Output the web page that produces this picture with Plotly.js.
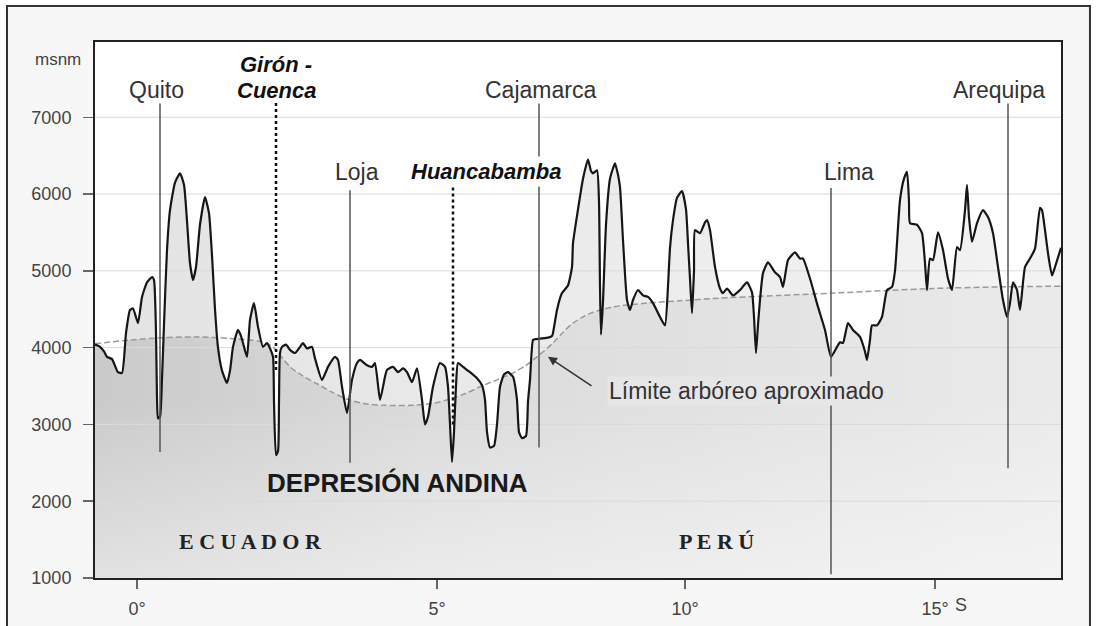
<!DOCTYPE html>
<html>
<head>
<meta charset="utf-8">
<script src="https://cdn.plot.ly/plotly-3.0.1.min.js"></script>
<style>html,body{margin:0;padding:0;background:#fff;}#chart{width:1096px;height:626px;}</style>
</head>
<body>
<div id="chart"></div>
<script>
// Distance along the Andean profile (arbitrary units) and altitude (msnm)
const dist = [0,2,5,9,12,17,23,27,31,35,38,43,47,52,57,59,61,62,63,65,67,69,72,75,80,85,89,92,95,98,101,105,110,114,117,120,123,127,132,135,138,143,146,148,152,155,159,163,168,172,175,178,179,181,183,184,185,187,191,195,200,205,208,212,217,220,227,233,240,243,247,252,257,262,265,272,277,280,285,290,292,298,303,308,312,317,322,327,330,333,338,345,350,353,355,357,359,361,363,368,375,382,387,390,392,395,399,402,405,409,413,418,422,424,427,431,433,435,438,440,447,453,457,458,462,467,473,477,478,483,488,493,496,498,502,504,505,506,508,511,515,520,523,525,528,532,535,538,543,548,553,558,565,570,573,575,578,582,587,591,593,595,597,599,600,605,610,612,615,620,625,628,632,638,645,652,657,659,661,663,665,668,673,680,685,688,693,700,705,708,715,723,730,736,742,745,748,753,758,765,770,772,775,777,782,787,792,797,800,802,805,809,812,814,815,822,827,830,832,835,838,843,848,853,857,862,865,870,872,874,877,882,888,893,898,903,908,912,915,918,922,925,930,935,940,945,947,950,953,957,960,966];
const altitud = [4040,4030,4010,3950,3880,3850,3680,3670,4190,4490,4510,4320,4660,4850,4920,4880,4190,3350,3080,3100,3600,4300,5270,5790,6150,6270,6120,5650,5100,4880,5050,5600,5960,5750,5200,4500,4000,3700,3540,3700,4010,4230,4150,4060,3880,4360,4580,4270,4010,4060,3990,3880,3300,2600,2650,3300,3930,4010,4040,3970,3930,4010,4060,3990,4010,3860,3580,3750,3880,3840,3490,3150,3580,3800,3840,3770,3750,3800,3320,3620,3710,3750,3680,3730,3680,3550,3730,3320,3000,3100,3490,3800,3750,3490,3000,2510,2900,3500,3800,3750,3680,3600,3510,3320,2900,2700,2720,3000,3490,3650,3680,3620,3320,2900,2820,2850,3300,3580,4100,4110,4120,4130,4150,4190,4490,4710,4810,5050,5360,5800,6200,6450,6300,6270,6310,5900,4800,4170,4600,5600,6200,6400,6250,6090,5400,4620,4490,4620,4750,4680,4660,4580,4400,4290,4800,5300,5660,5950,6040,5800,5360,4900,4450,5000,5530,5490,5630,5660,5530,5050,4770,4710,4770,4680,4750,4850,4720,4400,3930,4300,4620,4970,5110,4980,4920,4790,5140,5240,5160,5160,4900,4530,4230,3880,4010,4070,4060,4320,4230,4140,3950,3840,4100,4290,4290,4400,4750,4790,5000,5360,5920,6200,6290,5900,5620,5600,5490,5100,4750,5160,5140,5500,5270,4900,4750,5310,5270,5790,6120,5700,5380,5620,5790,5700,5490,5050,4620,4400,4580,4850,4750,4490,5050,5160,5290,5820,5790,5530,5230,4940,5050,5300];

// Approximate tree line
const limiteDist = [0,35,70,102,135,165,178,187,195,208,222,237,252,270,288,318,340,352,370,385,402,418,430,442,458,468,478,488,498,518,552,585,618,685,738,838,905,966];
const limiteAlt  = [4050,4100,4130,4140,4120,4080,4010,3870,3750,3630,3530,3420,3330,3270,3250,3250,3280,3320,3400,3490,3580,3670,3760,3880,4060,4200,4320,4400,4460,4530,4580,4610,4640,4680,4710,4770,4790,4800];

// Localities: position along profile, top and bottom of marker line (msnm)
const ciudades    = ['Quito','Girón - Cuenca','Loja','Huancabamba','Cajamarca','Lima','Arequipa'];
const ciudadDist  = [65,181,255,358,444,736,913];
const ciudadTop   = [7180,7200,6050,6090,7180,6080,7180];
const ciudadBase  = [2640,3710,2500,3000,2700,1050,2430];
const ciudadDepr  = [false,true,false,true,false,false,false];

// Axes
const latTickVals = [42,342,590,840];
const latTickText = ['0°','5°','10°','15°'];
const altTicks    = [1000,2000,3000,4000,5000,6000,7000];
const xRange = [0,966];
const yRange = [1000,7980];

const SANS = 'Liberation Sans, Arial, sans-serif';
const SERIF = 'Liberation Serif, Times New Roman, serif';
const sm = 0.5;

const traces = [];
// terrain fill
traces.push({x: dist, y: altitud, mode:'lines', fill:'tozeroy', line:{width:0, shape:'spline', smoothing:sm},
  fillgradient:{type:'horizontal', colorscale:[[0,'#e3e3e3'],[0.5,'#ebebeb'],[1,'#f3f3f3']]}, hoverinfo:'skip', showlegend:false});
// tree line fill
traces.push({x: limiteDist, y: limiteAlt, mode:'lines', fill:'tozeroy', line:{width:0, shape:'spline', smoothing:0.8},
  fillgradient:{type:'horizontal', colorscale:[[0,'rgba(0,0,0,0.11)'],[0.35,'rgba(0,0,0,0.06)'],[1,'rgba(0,0,0,0.035)']]}, hoverinfo:'skip', showlegend:false});
// soft lightening towards the base of the profile
traces.push({x: xRange, y: [3300, 3300], mode:'lines', fill:'tozeroy', line:{width:0},
  fillgradient:{type:'vertical', start:1000, stop:3300, colorscale:[[0,'rgba(255,255,255,0.45)'],[1,'rgba(255,255,255,0)']]}, hoverinfo:'skip', showlegend:false});
// white mask above terrain
traces.push({x: dist, y: dist.map(() => yRange[1]), mode:'lines', line:{width:0}, hoverinfo:'skip', showlegend:false});
traces.push({x: dist, y: altitud, mode:'lines', fill:'tonexty', fillcolor:'#ffffff', line:{width:0, shape:'spline', smoothing:sm}, hoverinfo:'skip', showlegend:false});
// grid lines
const gx = [], gy = [];
altTicks.slice(1).forEach(v => { gx.push(xRange[0], xRange[1], null); gy.push(v, v, null); });
traces.push({x: gx, y: gy, mode:'lines', line:{color:'#dadada', width:1}, hoverinfo:'skip', showlegend:false});
// tree line dashed
traces.push({x: limiteDist, y: limiteAlt, mode:'lines', line:{color:'#9a9a9a', width:1.5, dash:'6px,3px', shape:'spline', smoothing:0.8}, hoverinfo:'skip', showlegend:false});
// terrain profile
traces.push({x: dist, y: altitud, mode:'lines', line:{color:'#161616', width:2.2, shape:'spline', smoothing:sm}, hoverinfo:'skip', showlegend:false});

const shapes = [
  {type:'rect', xref:'paper', yref:'paper', x0:-0.0911, x1:1.030, y0:-0.12, y1:1.0672, layer:'below', fillcolor:'#f7f7f7', line:{color:'#333', width:2}},
  {type:'rect', xref:'paper', yref:'paper', x0:0, x1:1, y0:0, y1:1, layer:'below', fillcolor:'#ffffff', line:{width:0}}
];
ciudades.forEach((c, i) => {
  shapes.push({type:'line', xref:'x', yref:'y', x0:ciudadDist[i], x1:ciudadDist[i], y0:ciudadBase[i], y1:ciudadTop[i], layer:'above',
    line: ciudadDepr[i] ? {color:'#111', width:2.5, dash:'dot'} : {color:'#555', width:1.5}});
});

function lab(text, x, y, opt) {
  return Object.assign({text:text, x:x, y:y, xref:'x', yref:'y', showarrow:false, xanchor:'center', yanchor:'middle',
    font:{family:SANS, size:23, color:'#333'}}, opt || {});
}
const annotations = [
  lab('Quito', 61, 7352),
  lab('<b><i>Girón -</i></b>', 181, 7690, {font:{family:SANS, size:22, color:'#111'}}),
  lab('<b><i>Cuenca</i></b>', 181, 7352, {font:{family:SANS, size:22, color:'#111'}}),
  lab('Loja', 262, 6284),
  lab('<b><i>Huancabamba</i></b>', 391, 6297, {font:{family:SANS, size:22, color:'#111'}, bgcolor:'#ffffff', borderpad:2}),
  lab('Cajamarca', 445, 7352),
  lab('Lima', 754, 6284),
  lab('Arequipa', 904, 7352),
  lab('<b>DEPRESIÓN ANDINA</b>', 302, 2236, {font:{family:SANS, size:26, color:'#1a1a1a'}}),
  lab('<b>E C U A D O R</b>', 155, 1469, {font:{family:SERIF, size:22, color:'#222'}}),
  lab('<b>P E R Ú</b>', 621, 1469, {font:{family:SERIF, size:22, color:'#222'}}),
  lab('Límite arbóreo aproximado', 651, 3434, {bgcolor:'#e6e6e6', borderpad:1}),
  {x:453, y:3880, xref:'x', yref:'y', ax:45, ay:30, showarrow:true, arrowhead:2, arrowsize:1.2, arrowwidth:1.5, arrowcolor:'#333', text:''},
  {text:'msnm', xref:'paper', yref:'y', x:-0.0383, y:7755, showarrow:false, xanchor:'center', yanchor:'middle', font:{family:SANS, size:17, color:'#444'}},
  {text:'S', xref:'x', yref:'paper', x:866, y:-0.0504, showarrow:false, xanchor:'center', yanchor:'middle', font:{family:SANS, size:18, color:'#444'}}
];

const layout = {
  width:1096, height:626,
  margin:{l:95, r:35, t:42, b:48, pad:0},
  paper_bgcolor:'#ffffff', plot_bgcolor:'rgba(0,0,0,0)',
  showlegend:false,
  xaxis:{range:xRange, tickvals:latTickVals, ticktext:latTickText, ticks:'outside', ticklen:9, tickwidth:1.5, tickcolor:'#666',
    showgrid:false, zeroline:false, showline:true, mirror:true, linecolor:'#222', linewidth:2, ticklabelstandoff:4,
    tickfont:{family:SANS, size:18, color:'#444'}, fixedrange:true},
  yaxis:{range:yRange, tickvals:altTicks, ticks:'outside', ticklen:10, tickwidth:1.5, tickcolor:'#666',
    showgrid:false, zeroline:false, showline:true, mirror:true, linecolor:'#222', linewidth:2, ticklabelstandoff:8,
    tickfont:{family:SANS, size:18, color:'#444'}, fixedrange:true},
  shapes:shapes,
  annotations:annotations
};

Plotly.newPlot('chart', traces, layout, {staticPlot:true, displayModeBar:false});
</script>
</body>
</html>
